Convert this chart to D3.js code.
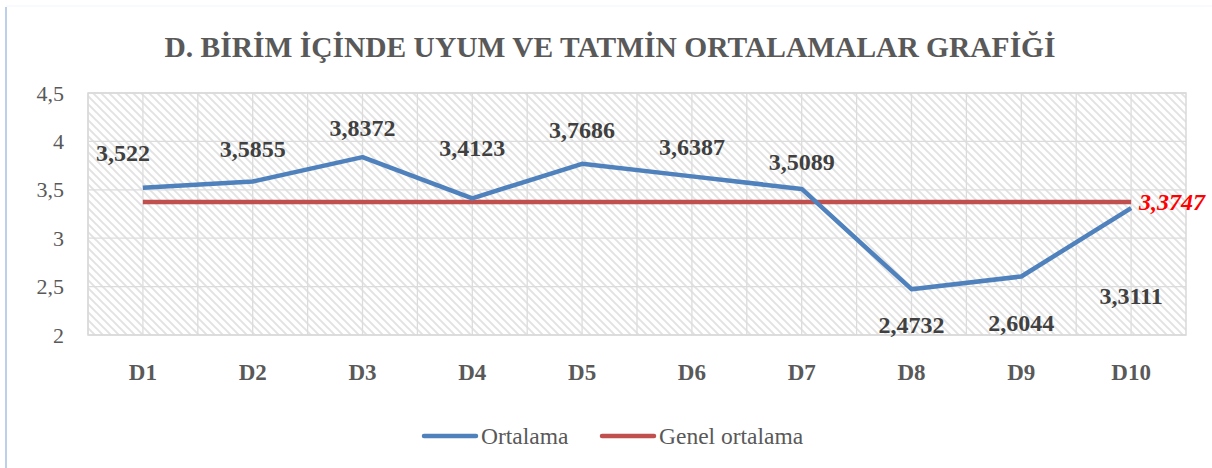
<!DOCTYPE html>
<html>
<head>
<meta charset="utf-8">
<script src="https://cdn.jsdelivr.net/npm/d3@7"></script>
<style>
  body { margin: 0; background: #fff; }
  text { font-family: "Liberation Serif", "Times New Roman", serif; }
</style>
</head>
<body>
<div id="chart"></div>
<script>
// Data
const categories = ['D1', 'D2', 'D3', 'D4', 'D5', 'D6', 'D7', 'D8', 'D9', 'D10'];
const ortalama = [3.522, 3.5855, 3.8372, 3.4123, 3.7686, 3.6387, 3.5089, 2.4732, 2.6044, 3.3111];
const genelOrtalama = 3.3747;
const yTicks = [2, 2.5, 3, 3.5, 4, 4.5];
const chartTitle = 'D. BİRİM İÇİNDE UYUM VE TATMİN ORTALAMALAR GRAFİĞİ';
const seriesNames = ['Ortalama', 'Genel ortalama'];

// Layout
const width = 1212;
const height = 468;
const plot = { left: 88, right: 1186, top: 93, bottom: 335 };
// manual label offsets (px, relative to the point)
const labelDx = [-20, 0, 0, 0, 0, 0, 0, 0, 0, 0];
const labelDy = [-35, -33, -29, -50, -34, -29, -27, 36, 47, 88];

const blue = '#4F81BD';
const red = '#C0504D';
const grey = '#595959';
const dark = '#404040';

const fmt = v => String(v).replace('.', ',');

const svg = d3.select('#chart').append('svg')
    .attr('width', width)
    .attr('height', height);

// hatch pattern (wide downward diagonal)
const defs = svg.append('defs');
const pat = defs.append('pattern')
    .attr('id', 'hatch')
    .attr('patternUnits', 'userSpaceOnUse')
    .attr('width', 8).attr('height', 8);
pat.append('rect').attr('width', 8).attr('height', 8).attr('fill', '#fff');
pat.append('path')
    .attr('d', 'M0,0 L8,8 M-2,6 L2,10 M6,-2 L10,2')
    .attr('stroke', '#e2e2e2').attr('stroke-width', 1.9);

// chart area edge
svg.append('line').attr('x1', 6).attr('x2', 6).attr('y1', 7).attr('y2', height)
    .attr('stroke', '#bcd0ea').attr('stroke-width', 2);
svg.append('line').attr('x1', 6).attr('x2', width).attr('y1', 6).attr('y2', 6)
    .attr('stroke', '#f2f5fa').attr('stroke-width', 1);

// Scales
const xScale = d3.scaleBand().domain(categories).range([plot.left, plot.right]).padding(0);
const xCenter = c => xScale(c) + xScale.bandwidth() / 2;
const yScale = d3.scaleLinear().domain([2, 4.5]).range([plot.bottom, plot.top]);

// plot area background
svg.append('rect')
    .attr('x', plot.left).attr('y', plot.top)
    .attr('width', plot.right - plot.left).attr('height', plot.bottom - plot.top)
    .attr('fill', 'url(#hatch)');

// gridlines
const grid = svg.append('g').attr('stroke', '#dcdcdc').attr('stroke-width', 1.3);
yTicks.forEach(t => {
    grid.append('line').attr('x1', plot.left).attr('x2', plot.right)
        .attr('y1', yScale(t)).attr('y2', yScale(t));
});
categories.forEach(c => {
    grid.append('line').attr('x1', xScale(c)).attr('x2', xScale(c))
        .attr('y1', plot.top).attr('y2', plot.bottom);
    grid.append('line').attr('x1', xCenter(c)).attr('x2', xCenter(c))
        .attr('y1', plot.top).attr('y2', plot.bottom);
});
svg.append('rect')
    .attr('x', plot.left).attr('y', plot.top)
    .attr('width', plot.right - plot.left).attr('height', plot.bottom - plot.top)
    .attr('fill', 'none').attr('stroke', '#d9d9d9').attr('stroke-width', 1.5);

// Axes
const yAxis = d3.axisLeft(yScale).tickValues(yTicks).tickFormat(fmt).tickSize(0).tickPadding(0);
svg.append('g')
    .attr('transform', 'translate(64,0)')
    .call(yAxis)
    .call(g => g.select('.domain').remove())
    .selectAll('text')
        .attr('font-family', '"Liberation Serif", serif')
        .attr('font-size', 22)
        .attr('fill', grey);

const xAxis = d3.axisBottom(xScale).tickSize(0).tickPadding(0);
svg.append('g')
    .attr('transform', `translate(0,${plot.bottom + 29})`)
    .call(xAxis)
    .call(g => g.select('.domain').remove())
    .selectAll('text')
        .attr('font-family', '"Liberation Serif", serif')
        .attr('font-size', 23)
        .attr('font-weight', 'bold')
        .attr('fill', grey);

// Genel ortalama line
const first = categories[0];
const last = categories[categories.length - 1];
svg.append('line')
    .attr('x1', xCenter(first)).attr('x2', xCenter(last))
    .attr('y1', yScale(genelOrtalama)).attr('y2', yScale(genelOrtalama))
    .attr('stroke', red).attr('stroke-width', 4.5);

svg.append('text')
    .attr('x', xCenter(last) + 8)
    .attr('y', yScale(genelOrtalama) + 8)
    .attr('font-size', 24).attr('font-weight', 'bold').attr('font-style', 'italic')
    .attr('fill', '#ff0000')
    .text(fmt(genelOrtalama));

// Ortalama line
const line = d3.line()
    .x((d, i) => xCenter(categories[i]))
    .y(d => yScale(d));
svg.append('path')
    .datum(ortalama)
    .attr('d', line)
    .attr('fill', 'none')
    .attr('stroke', blue)
    .attr('stroke-width', 4.5)
    .attr('stroke-linejoin', 'round');

// data labels
svg.append('g').selectAll('text')
    .data(ortalama)
    .join('text')
        .attr('x', (d, i) => xCenter(categories[i]) + labelDx[i])
        .attr('y', (d, i) => yScale(d) + labelDy[i] + 8)
        .attr('text-anchor', 'middle')
        .attr('font-size', 24)
        .attr('font-weight', 'bold')
        .attr('fill', dark)
        .text(d => fmt(d));

// Title
svg.append('text')
    .attr('x', 610).attr('y', 57)
    .attr('text-anchor', 'middle')
    .attr('font-size', 29.5)
    .attr('font-weight', 'bold')
    .attr('fill', grey)
    .text(chartTitle);

// Legend
const legend = svg.append('g').attr('transform', 'translate(0,436)');
const legendItems = [
    { name: seriesNames[0], color: blue, x: 424 },
    { name: seriesNames[1], color: red, x: 602 }
];
legendItems.forEach(it => {
    legend.append('line')
        .attr('x1', it.x).attr('x2', it.x + 52)
        .attr('stroke', it.color).attr('stroke-width', 4.5).attr('stroke-linecap', 'round');
    legend.append('text')
        .attr('x', it.x + 57).attr('y', 8)
        .attr('font-size', 23.5)
        .attr('fill', grey)
        .text(it.name);
});
</script>
</body>
</html>
